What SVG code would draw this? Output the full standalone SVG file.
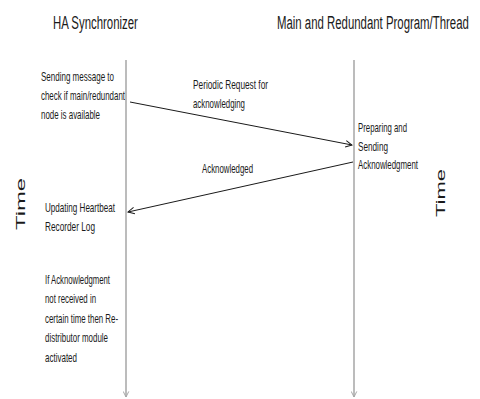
<svg xmlns="http://www.w3.org/2000/svg" width="480" height="399" viewBox="0 0 480 399">
  <style>
    text { font-family: "Liberation Sans", Arial, sans-serif; fill: #1a1a1a; }
    .title { font-size: 19px; }
    .body { font-size: 13px; }
    .time { font-size: 12px; }
    .life { stroke: #a6a6a6; stroke-width: 1.5; fill: none; }
    .msg { stroke: #1a1a1a; stroke-width: 1; fill: none; }
  </style>
  <defs>
    <marker id="open" viewBox="0 0 10 10" refX="9" refY="5" markerWidth="8" markerHeight="8" orient="auto" markerUnits="userSpaceOnUse">
      <path d="M1,1 L9,5 L1,9" fill="none" stroke="#1a1a1a" stroke-width="1.2"/>
    </marker>
    <marker id="openGray" viewBox="0 0 10 10" refX="9" refY="5" markerWidth="7" markerHeight="7" orient="auto" markerUnits="userSpaceOnUse">
      <path d="M1,1 L9,5 L1,9" fill="none" stroke="#a6a6a6" stroke-width="1.4"/>
    </marker>
  </defs>

  <rect width="480" height="399" fill="#ffffff"/>

  <!-- lifeline headers (condensed horizontally) -->
  <g id="ha-synchronizer">
    <text class="title" transform="translate(53,29) scale(0.6,1)">HA Synchronizer</text>
  </g>
  <g id="main-redundant">
    <text class="title" transform="translate(277,29) scale(0.6,1)">Main and Redundant  Program/Thread</text>
  </g>

  <!-- time axes -->
  <g id="time-left">
    <text class="time" transform="translate(25,230) rotate(-90)" textLength="52" lengthAdjust="spacingAndGlyphs">Time</text>
  </g>
  <g id="time-right">
    <text class="time" transform="translate(445,217) rotate(-90)" textLength="48" lengthAdjust="spacingAndGlyphs">Time</text>
  </g>

  <!-- activity notes -->
  <g id="send-check">
    <text class="body" x="41" y="81" textLength="73" lengthAdjust="spacingAndGlyphs">Sending message  to</text>
    <text class="body" x="41" y="100" textLength="84" lengthAdjust="spacingAndGlyphs">check if main/redundant</text>
    <text class="body" x="41" y="119" textLength="59" lengthAdjust="spacingAndGlyphs">node is available</text>
  </g>
  <g id="prepare-ack">
    <text class="body" x="358" y="132" textLength="49" lengthAdjust="spacingAndGlyphs">Preparing and</text>
    <text class="body" x="358" y="151" textLength="30" lengthAdjust="spacingAndGlyphs">Sending</text>
    <text class="body" x="358" y="169" textLength="60" lengthAdjust="spacingAndGlyphs">Acknowledgment</text>
  </g>
  <g id="update-log">
    <text class="body" x="45" y="212" textLength="70" lengthAdjust="spacingAndGlyphs">Updating  Heartbeat</text>
    <text class="body" x="45" y="231" textLength="50" lengthAdjust="spacingAndGlyphs">Recorder  Log</text>
  </g>
  <g id="redistribute">
    <text class="body" x="45" y="284" textLength="65" lengthAdjust="spacingAndGlyphs">If Acknowledgment</text>
    <text class="body" x="45" y="303" textLength="51" lengthAdjust="spacingAndGlyphs">not received in</text>
    <text class="body" x="45" y="323" textLength="73" lengthAdjust="spacingAndGlyphs">certain time then Re-</text>
    <text class="body" x="45" y="342" textLength="63" lengthAdjust="spacingAndGlyphs">distributor module</text>
    <text class="body" x="45" y="362" textLength="32" lengthAdjust="spacingAndGlyphs">activated</text>
  </g>

  <!-- lifelines and messages -->
  <g id="connectors">
    <line class="life" x1="126" y1="60" x2="126" y2="397" marker-end="url(#openGray)"/>
    <line class="life" x1="354" y1="60" x2="354" y2="397" marker-end="url(#openGray)"/>

    <line class="msg" x1="130" y1="102" x2="352" y2="145" marker-end="url(#open)"/>
    <text class="body" x="193" y="89" textLength="75" lengthAdjust="spacingAndGlyphs">Periodic Request for</text>
    <text class="body" x="193" y="108" textLength="52" lengthAdjust="spacingAndGlyphs">acknowledging</text>

    <line class="msg" x1="353" y1="162" x2="128" y2="212" marker-end="url(#open)"/>
    <text class="body" x="202" y="173" textLength="51" lengthAdjust="spacingAndGlyphs">Acknowledged</text>
  </g>
</svg>
